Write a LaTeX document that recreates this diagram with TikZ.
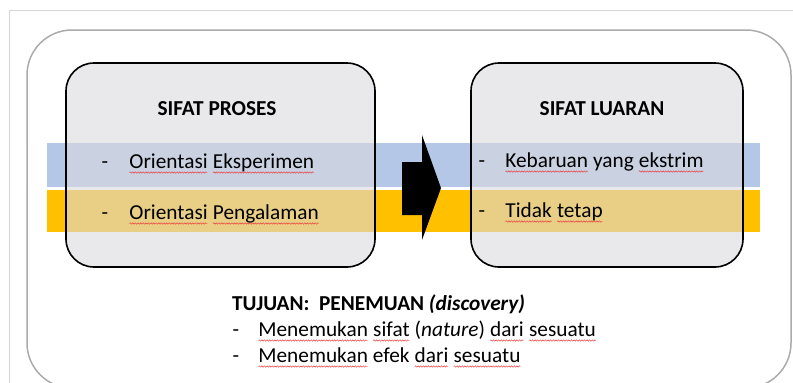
\documentclass[tikz,border=0pt]{standalone}
\usepackage{fontspec}
\setmainfont{Carlito}
\usetikzlibrary{decorations.pathmorphing}
\definecolor{bandblue}{HTML}{B4C7E7}
\definecolor{bandorange}{HTML}{FFC000}
\definecolor{boxfill}{HTML}{DAD9DE}
\definecolor{framegray}{HTML}{ABABAB}
\definecolor{wingray}{HTML}{D6D6D6}
\definecolor{squig}{HTML}{E8393A}
\newcommand\sq[1]{\tikz[baseline=(w.base)]{\node[inner sep=0pt,outer sep=0pt,draw=none,fill=none,anchor=base](w){#1};\draw[squig,line width=0.45pt,decorate,decoration={snake,amplitude=0.7pt,segment length=2.6pt}]([yshift=-4.5pt]w.base west)--([yshift=-4.5pt]w.base east);}}
\tikzset{
  bigbox/.style={draw=black,line width=1.6pt,fill=boxfill,fill opacity=0.6,rounded corners=28pt,minimum height=204pt,inner sep=0pt},
  label/.style={anchor=base west,inner sep=0pt,text=black},
  dashtxt/.style={anchor=base,inner sep=0pt,text=black},
  head/.style={anchor=base,inner sep=0pt,font=\fontsize{21.3}{24}\selectfont\bfseries}
}
\begin{document}
\begin{tikzpicture}[x=1pt,y=-1pt,font=\fontsize{21.3}{24}\selectfont]
\useasboundingbox (0,0) rectangle (793,383);
\draw[wingray,line width=0.8pt] (9,400) -- (9,10) -- (800,10);
\draw[framegray,line width=1.5pt,rounded corners=45pt] (27,30) rectangle (791,388);
\fill[bandblue] (47,143) rectangle (760,187);
\fill[bandorange] (47,190) rectangle (760,232);
\node[bigbox,minimum width=309pt] (proses) at (220.5,165) {};
\node[bigbox,minimum width=272pt] (luaran) at (607,165) {};
\fill[black] (402,162) -- (422,162) -- (422,135) -- (441,188) -- (422,240) -- (422,215) -- (402,215) -- cycle;
\node[head] (h1) at (217,115) {SIFAT PROSES};
\node[head] (h2) at (602,115) {SIFAT LUARAN};
\node[dashtxt] (d1) at (105,168) {-};
\node[label] (p1) at (129,168) {\sq{Orientasi} \sq{Eksperimen}};
\node[dashtxt] (d2) at (105,219) {-};
\node[label] (p2) at (129,219) {\sq{Orientasi} \sq{Pengalaman}};
\node[dashtxt] (d3) at (482,167) {-};
\node[label] (l1) at (505,167) {\sq{Kebaruan} yang \sq{ekstrim}};
\node[dashtxt] (d4) at (482,217) {-};
\node[label] (l2) at (505,217) {\sq{Tidak} \sq{tetap}};
\node[label,font=\fontsize{21.3}{24}\selectfont\bfseries] (tj) at (232,310) {TUJUAN:\ \ PENEMUAN \textit{(discovery)}};
\node[dashtxt] (d5) at (236,336) {-};
\node[label] (b1) at (258,336) {\sq{Menemukan} \sq{sifat} (\textit{nature}) \sq{dari} \sq{sesuatu}};
\node[dashtxt] (d6) at (236,362) {-};
\node[label] (b2) at (258,362) {\sq{Menemukan} efek \sq{dari} \sq{sesuatu}};
\end{tikzpicture}
\end{document}
